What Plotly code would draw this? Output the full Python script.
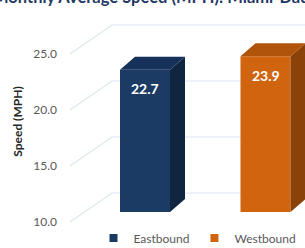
import plotly.graph_objects as go

# ---- data ----
categories = ["Eastbound", "Westbound"]
speeds = [22.7, 23.9]
tick_values = [10, 15, 20, 25]
tick_labels = ["10.0", "15.0", "20.0", "25.0"]
title_text = "Monthly Average Speed (MPH): Miami-Dade"
y_title = "Speed (MPH)"

# ---- style ----
front_colors = ["#1b3a64", "#d1640f"]
side_colors = ["#10253f", "#8a4209"]
top_colors = ["#16315a", "#b0540c"]
grid_color = "#dde6f1"
text_gray = "#595959"

W, H = 305, 248
L, R, T, B = 70, 0, 15, 20
plot_w = W - L - R
plot_h = H - T - B
px_per_cat = 120.5
px_per_unit = 11.2
base = 10
x_lo = -(145 - L) / px_per_cat
x_hi = x_lo + plot_w / px_per_cat
y_lo = base - (228 - 212) / px_per_unit
y_hi = y_lo + plot_h / px_per_unit

bar_w = 50 / px_per_cat
dx = 15 / px_per_cat
dy = 13 / px_per_unit

xs = list(range(len(categories)))

fig = go.Figure()
fig.add_trace(go.Bar(
    x=xs, y=[v - base for v in speeds], base=base, width=bar_w,
    marker=dict(color=front_colors, line=dict(width=0)),
    showlegend=False, hoverinfo="skip",
))
for i, c in enumerate(categories):
    fig.add_trace(go.Scatter(
        x=[None], y=[None], mode="markers", name=c,
        marker=dict(symbol="square", size=8, color=front_colors[i]),
    ))

shapes = []
# perspective gridlines
back_x = 42 / plot_w
for t in tick_values:
    yf = t - 10 / px_per_unit
    yb = t + 19 / px_per_unit
    shapes.append(dict(
        type="path", xref="paper", yref="y", layer="below",
        path=f"M 0,{yf} L {back_x},{yb} L 1,{yb}",
        line=dict(color=grid_color, width=1.2),
    ))
# 3D faces
for i, v in enumerate(speeds):
    xl = xs[i] - bar_w / 2
    xr = xs[i] + bar_w / 2
    shapes.append(dict(
        type="path", xref="x", yref="y", layer="above",
        path=f"M {xr},{v} L {xr},{base} L {xr+dx},{base+dy} L {xr+dx},{v+dy} Z",
        fillcolor=side_colors[i], line=dict(width=0),
    ))
    shapes.append(dict(
        type="path", xref="x", yref="y", layer="above",
        path=f"M {xl},{v} L {xr},{v} L {xr+dx},{v+dy} L {xl+dx},{v+dy} Z",
        fillcolor=top_colors[i], line=dict(width=0),
    ))

annotations = []
for i, v in enumerate(speeds):
    annotations.append(dict(
        x=xs[i], y=v, xref="x", yref="y", text=f"<b>{v:.1f}</b>",
        showarrow=False, yshift=-19,
        font=dict(family="Lato", size=14, color="white"),
    ))
annotations.append(dict(
    x=0, y=1, xref="paper", yref="paper", text=f"<b>{title_text}</b>",
    xanchor="left", yanchor="middle", xshift=-(L + 9), yshift=T + 3,
    showarrow=False, font=dict(family="Lato", size=16.5, color="#1f3864"),
))

fig.update_layout(
    width=W, height=H,
    margin=dict(l=L, r=R, t=T, b=B, autoexpand=False),
    paper_bgcolor="white", plot_bgcolor="white",
    xaxis=dict(range=[x_lo, x_hi], showticklabels=False, showgrid=False,
               zeroline=False, showline=False, ticks="", automargin=False),
    yaxis=dict(range=[y_lo, y_hi], tickvals=tick_values, ticktext=tick_labels,
               showgrid=False, zeroline=False, showline=False, ticks="",
               automargin=False,
               ticklabelshift=10, ticklabelstandoff=12,
               tickfont=dict(family="Lato", size=12, color=text_gray),
               title=dict(text=f"<b>{y_title}</b>", standoff=8,
                          font=dict(family="Lato", size=12, color="#262626"))),
    shapes=shapes, annotations=annotations,
    legend=dict(orientation="h", x=0.1, xanchor="left",
                y=0.04, yref="container", yanchor="middle",
                font=dict(family="Lato", size=12, color=text_gray),
                itemwidth=30, bgcolor="rgba(0,0,0,0)"),
    showlegend=True,
)

fig.write_html("out.html",
               config={"displayModeBar": False},
               post_script="document.body.style.margin='0';document.body.style.overflow='hidden';")
